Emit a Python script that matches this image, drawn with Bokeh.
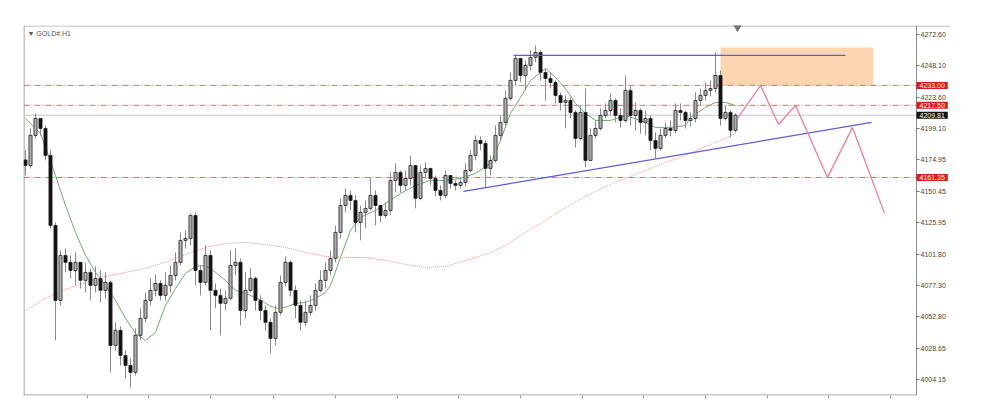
import numpy as np
from bokeh.plotting import figure
from bokeh.models import Label, FixedTicker, Range1d, ColumnDataSource, CustomJSTickFormatter
from bokeh.embed import file_html
from bokeh.resources import INLINE

# ---------------- data (GOLD#, H1) ----------------
first_open = 4175.0
closes = [
    4170.7, 4194.1, 4207.3, 4199.5, 4178.5, 4124.0, 4065.7, 4100.7, 4095.3, 4089.0,
    4095.3, 4081.3, 4087.5, 4077.4, 4082.8, 4073.5, 4079.7, 4030.7, 4042.4, 4022.9,
    4015.1, 4009.7, 4038.5, 4051.7, 4065.7, 4073.5, 4078.9, 4069.6, 4077.4, 4085.1,
    4095.3, 4112.4, 4113.9, 4131.8, 4089.0, 4079.7, 4100.7, 4073.5, 4069.6, 4063.4,
    4067.3, 4092.9, 4095.3, 4057.9, 4073.5, 4082.8, 4065.7, 4057.9, 4048.6, 4036.1,
    4056.4, 4079.7, 4095.3, 4073.5, 4061.8, 4048.6, 4056.4, 4061.8, 4073.5, 4081.3,
    4089.0, 4098.4, 4118.6, 4139.6, 4147.4, 4143.5, 4126.4, 4134.2, 4137.3, 4147.4,
    4139.6, 4131.8, 4135.7, 4159.1, 4165.3, 4155.2, 4160.6, 4170.7, 4145.1, 4165.3,
    4168.4, 4160.6, 4151.3, 4147.4, 4162.9, 4156.7, 4155.2, 4157.5, 4166.8, 4178.5,
    4190.2, 4187.8, 4168.4, 4174.6, 4194.1, 4204.2, 4222.9, 4236.9, 4254.0, 4240.7,
    4248.5, 4254.8, 4258.6, 4243.1, 4238.4, 4235.3, 4225.2, 4219.7, 4221.3, 4212.0,
    4191.7, 4212.0, 4174.6, 4194.1, 4199.5, 4209.6, 4213.5, 4221.3, 4209.6, 4205.7,
    4229.1, 4209.6, 4213.5, 4204.2, 4207.3, 4190.2, 4184.0, 4194.1, 4199.5, 4198.0,
    4213.5, 4212.0, 4205.7, 4207.3, 4221.3, 4225.2, 4229.1, 4230.6, 4240.7, 4207.3,
    4212.0, 4198.0, 4209.81,
]
highs = [
    4182.4, 4199.5, 4211.2, 4207.3, 4201.8, 4182.4, 4126.4, 4104.6, 4106.1, 4100.7,
    4103.0, 4095.3, 4095.3, 4090.6, 4092.1, 4089.0, 4087.5, 4081.3, 4048.6, 4045.5,
    4026.8, 4020.6, 4043.9, 4059.5, 4071.9, 4082.8, 4085.9, 4081.3, 4087.5, 4092.9,
    4103.0, 4118.6, 4120.2, 4133.4, 4134.2, 4092.9, 4108.5, 4104.6, 4078.9, 4075.0,
    4073.5, 4104.6, 4106.1, 4098.4, 4087.5, 4090.6, 4084.4, 4069.6, 4061.8, 4051.7,
    4061.8, 4085.1, 4099.9, 4096.8, 4077.4, 4065.7, 4065.7, 4069.6, 4078.9, 4089.0,
    4095.3, 4104.6, 4124.0, 4145.1, 4152.8, 4151.3, 4147.4, 4139.6, 4143.5, 4161.4,
    4151.3, 4139.6, 4141.9, 4165.3, 4172.3, 4166.8, 4166.8, 4178.5, 4170.7, 4170.7,
    4173.1, 4168.4, 4162.9, 4155.2, 4166.8, 4162.1, 4159.1, 4161.4, 4172.3, 4182.4,
    4194.1, 4193.3, 4190.2, 4178.5, 4201.8, 4209.6, 4229.1, 4243.1, 4256.3, 4254.0,
    4252.4, 4260.2, 4264.1, 4260.2, 4246.2, 4243.1, 4236.9, 4227.5, 4225.2, 4223.6,
    4213.5, 4217.4, 4230.6, 4199.5, 4205.7, 4215.1, 4219.0, 4226.7, 4222.9, 4215.1,
    4240.7, 4233.0, 4219.7, 4215.1, 4213.5, 4209.6, 4196.4, 4199.5, 4204.2, 4205.7,
    4219.0, 4219.0, 4213.5, 4212.0, 4227.5, 4230.6, 4235.3, 4236.7, 4258.6, 4244.6,
    4217.4, 4213.5, 4211.2,
]
lows = [
    4162.9, 4168.4, 4191.7, 4194.1, 4174.6, 4121.7, 4034.6, 4061.8, 4087.5, 4082.8,
    4077.4, 4075.0, 4071.9, 4065.7, 4071.9, 4064.1, 4067.3, 4009.7, 4026.8, 4015.1,
    4005.0, 3998.0, 4007.3, 4034.5, 4048.6, 4061.8, 4068.8, 4065.7, 4065.7, 4071.9,
    4081.3, 4092.9, 4106.1, 4108.5, 4077.4, 4069.6, 4077.4, 4042.4, 4059.5, 4038.5,
    4057.9, 4065.7, 4085.1, 4046.2, 4051.7, 4071.9, 4057.9, 4050.1, 4042.3, 4024.5,
    4030.7, 4054.0, 4076.6, 4068.8, 4051.7, 4042.3, 4045.5, 4054.0, 4057.9, 4071.9,
    4075.0, 4085.1, 4095.3, 4113.9, 4134.2, 4135.7, 4118.6, 4112.4, 4121.7, 4135.7,
    4124.0, 4126.4, 4129.5, 4131.8, 4149.7, 4149.7, 4151.3, 4155.2, 4137.3, 4143.5,
    4160.6, 4155.2, 4146.6, 4143.5, 4145.1, 4152.8, 4151.3, 4152.8, 4154.4, 4165.3,
    4174.6, 4182.4, 4153.6, 4162.9, 4173.1, 4190.2, 4201.8, 4221.3, 4233.0, 4235.3,
    4229.1, 4244.6, 4250.9, 4236.7, 4221.3, 4230.6, 4219.0, 4213.5, 4199.5, 4207.3,
    4184.7, 4190.2, 4169.2, 4182.4, 4191.7, 4197.9, 4207.3, 4209.6, 4204.2, 4200.3,
    4204.2, 4201.8, 4197.9, 4195.6, 4194.1, 4182.4, 4176.2, 4182.4, 4191.7, 4193.3,
    4195.6, 4205.7, 4199.5, 4201.0, 4204.2, 4217.4, 4221.3, 4224.4, 4227.5, 4201.8,
    4205.7, 4192.5, 4196.4,
]

# moving averages (bar index, price)
ma_fast_idx = [0, 3, 6, 8, 10, 12, 14, 16, 18, 20, 22, 24, 26, 28, 30, 32, 34, 36, 38, 40,
               42, 44, 46, 48, 50, 52, 54, 56, 58, 60, 61, 63, 65, 67, 70, 72, 75, 78, 81, 84,
               87, 90, 93, 95, 97, 99, 101, 103, 104, 106, 108, 110, 112, 114, 117, 120, 123,
               126, 129, 132, 133, 136, 138, 140, 142]
ma_fast = [4207.3, 4195.6, 4162.9, 4139.6, 4118.6, 4100.7, 4087.5, 4077.4, 4065.7, 4051.7,
           4040.0, 4034.5, 4040.8, 4061.8, 4075.0, 4086.7, 4092.1, 4092.9, 4087.5, 4081.3,
           4073.5, 4071.1, 4068.0, 4063.4, 4059.5, 4060.3, 4063.4, 4064.1, 4067.3, 4071.9,
           4077.4, 4099.1, 4120.2, 4130.3, 4135.7, 4141.2, 4148.9, 4155.2, 4159.1, 4159.1,
           4160.6, 4164.5, 4172.3, 4190.2, 4211.2, 4223.6, 4236.7, 4243.1, 4246.2, 4239.2,
           4230.6, 4219.0, 4211.2, 4205.7, 4205.7, 4209.6, 4205.7, 4200.3, 4200.3, 4201.8,
           4208.1, 4215.9, 4219.7, 4219.7, 4217.4]
ma_slow_idx = [0, 4, 8, 12, 16, 20, 24, 28, 32, 36, 40, 44, 48, 52, 56, 60, 64, 68, 72, 76,
               80, 84, 88, 92, 96, 100, 104, 108, 112, 116, 120, 124, 128, 132, 136, 140, 142]
ma_slow = [4057.9, 4067.3, 4074.3, 4079.7, 4084.4, 4087.5, 4090.6, 4095.3, 4101.5, 4106.9,
           4110.0, 4110.8, 4109.3, 4106.9, 4103.0, 4099.9, 4099.1, 4099.1, 4096.8, 4093.7,
           4091.3, 4092.1, 4096.8, 4101.5, 4108.5, 4118.6, 4127.9, 4138.0, 4146.6, 4154.4,
           4160.6, 4166.8, 4173.1, 4178.5, 4185.5, 4191.7, 4195.6]

# levels and drawings
red_levels = [4233.00, 4217.50, 4161.35]
last_price = 4209.81
y_ticks = [4004.15, 4028.65, 4052.80, 4077.30, 4101.80, 4125.95, 4150.45,
           4174.95, 4199.10, 4223.60, 4248.10, 4272.60]
x_ticks = [12.4, 24.6, 37.0, 49.6, 62.0, 74.4, 86.6, 99.0, 111.4, 123.6, 136.0, 148.4, 160.6, 173.0]
res_idx = [97.6, 164.0]
res_price = [4256.3, 4256.3]
trend_idx = [87.6, 169.2]
trend_price = [4150.5, 4204.2]
zone_left, zone_right = [139.0], [169.6]
zone_bottom, zone_top = [4233.0], [4262.5]
zig_idx = [142.4, 147.0, 150.6, 154.0, 160.4, 165.4, 171.8]
zig_price = [4207.3, 4233.0, 4202.6, 4217.4, 4161.4, 4200.3, 4133.4]
shift_idx, shift_price = [142.4], [4278.1]
title_text = "▼ GOLD#,H1"

# ---------------- figure ----------------
# chart area spans bar index X0..X1; the price scale sits just right of X1
X0, X1, XEND = -0.4, 178.2, 187.0
Y0, Y1 = 3991.7, 4279.6
p = figure(width=1000, height=405, x_range=Range1d(X0, XEND), y_range=Range1d(Y0, Y1),
           output_backend="svg", toolbar_location=None, y_axis_location="right",
           min_border_left=23, min_border_right=40, min_border_top=25, min_border_bottom=10)
p.grid.visible = False
p.outline_line_color = None

ya = p.yaxis[0]
ya.fixed_location = X1
ya.ticker = FixedTicker(ticks=y_ticks)
ya.formatter = CustomJSTickFormatter(code="return tick.toFixed(2);")
ya.axis_line_color = None
ya.major_tick_in = 0
ya.major_tick_out = 3
ya.major_tick_line_color = "#777"
ya.minor_tick_line_color = None
ya.major_label_standoff = 1
ya.major_label_text_font = "Liberation Sans"
ya.major_label_text_font_size = "7px"
ya.major_label_text_color = "#444"

xa = p.xaxis[0]
xa.ticker = FixedTicker(ticks=x_ticks)
xa.axis_line_color = None
xa.major_tick_in = 0
xa.major_tick_out = 3
xa.major_tick_line_color = "#999"
xa.minor_tick_line_color = None
xa.major_label_text_font_size = "0px"
xa.major_label_standoff = 0

# chart border (left, bottom, right; the top rule runs on over the price scale)
frame_col = "#8c8c8c"
p.segment(x0=[X0 + 0.1, X1, X0], y0=[Y0, Y0, Y0 + 0.4], x1=[X0 + 0.1, X1, X1],
          y1=[Y1, Y1, Y0 + 0.4], line_color=frame_col, line_width=1)
p.segment(x0=[X0], y0=[Y1 - 0.4], x1=[185.0], y1=[Y1 - 0.4], line_color="#b0b0b0", line_width=1)

# zone
p.quad(left=zone_left, right=zone_right, bottom=zone_bottom, top=zone_top,
       fill_color="#fcd6b0", line_color=None)

# horizontal levels
n_lv = len(red_levels)
p.segment(x0=[X0] * n_lv, y0=red_levels, x1=[X1] * n_lv, y1=red_levels,
          line_color="#e86a6a", line_dash="6 2 1 2", line_width=1)
p.segment(x0=[X0], y0=[last_price], x1=[X1], y1=[last_price], line_color="#c4c4c4", line_width=1)

# moving averages
p.line(ma_slow_idx, ma_slow, line_color="#f09090", line_width=1, line_dash="1 1")
p.line(ma_fast_idx, ma_fast, line_color="#6fae6f", line_width=1)

# candles
n = len(closes)
idx = list(range(n))
opens = [first_open] + closes[:-1]
hi = [max(h, o, c) for h, o, c in zip(highs, opens, closes)]
lo = [min(l, o, c) for l, o, c in zip(lows, opens, closes)]
top = [max(o, c) for o, c in zip(opens, closes)]
bot = [min(o, c) for o, c in zip(opens, closes)]
fill = ["#b0b0b0" if c >= o else "#111111" for o, c in zip(opens, closes)]
src = ColumnDataSource(dict(x=idx, hi=hi, lo=lo, top=top, bot=bot, fill=fill))
p.segment(x0="x", y0="lo", x1="x", y1="hi", source=src, line_color="#8a8a8a", line_width=1)
p.vbar(x="x", width=0.62, top="top", bottom="bot", source=src,
       fill_color="fill", line_color="#222222", line_width=0.8)

# drawings
p.line(res_idx, res_price, line_color="#5c5cd6", line_width=1.2)
p.line(trend_idx, trend_price, line_color="#5c5cd6", line_width=1.3)
p.line(zig_idx, zig_price, line_color="#f07d98", line_width=1.3)
p.scatter(shift_idx, shift_price, marker="inverted_triangle", size=7, color="#777777")

# title
p.add_layout(Label(x=0.4, y=4273.4, text=title_text, text_baseline="middle",
                   text_font="Liberation Sans", text_font_size="7px", text_color="#555"))

# price boxes on the right scale
for lv, bg in [(red_levels[0], "#e0191f"), (red_levels[1], "#e0191f"),
               (red_levels[2], "#e0191f"), (last_price, "#111111")]:
    p.add_layout(Label(x=X1, y=lv, text=f"{lv:.2f}", text_align="left", text_baseline="middle",
                       x_offset=0, text_color="white", text_font="Liberation Sans",
                       text_font_size="7px", background_fill_color=bg, padding=(3, 1)))

open("out.html", "w").write(file_html(p, INLINE))
